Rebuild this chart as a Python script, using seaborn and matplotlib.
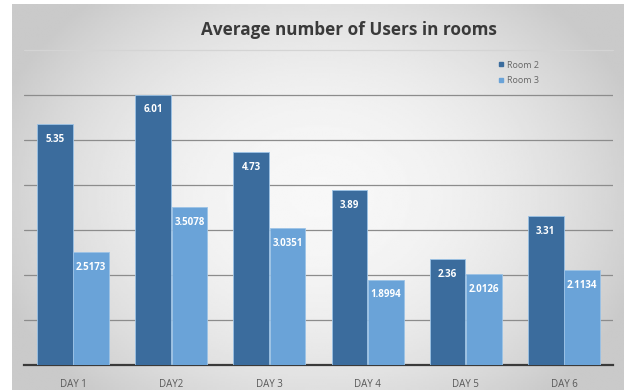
import numpy as np
import pandas as pd
import matplotlib
matplotlib.use("Agg")
import matplotlib.pyplot as plt
from matplotlib.lines import Line2D
import seaborn as sns

# Chart data
days = ["DAY 1", "DAY2", "DAY 3", "DAY 4", "DAY 5", "DAY 6"]
room2 = [5.35, 6.01, 4.73, 3.89, 2.36, 3.31]
room3 = [2.5173, 3.5078, 3.0351, 1.8994, 2.0126, 2.1134]
rooms = ["Room 2", "Room 3"]
title = "Average number of Users in rooms"

df = pd.DataFrame({
    "day": days * 2,
    "room": [rooms[0]] * len(days) + [rooms[1]] * len(days),
    "users": room2 + room3,
})

sns.set_theme(style="white")
plt.rcParams["font.family"] = ["Open Sans", "DejaVu Sans"]

dark = "#3b6c9d"
light = "#6aa3d8"
palette = {rooms[0]: dark, rooms[1]: light}

fig = plt.figure(figsize=(6.24, 3.91), dpi=100)
fig.patch.set_facecolor("white")

# radial grey backdrop behind the chart
bg = fig.add_axes([12 / 624, 1 / 391, 612 / 624, 386 / 391])
yy, xx = np.mgrid[-1:1:200j, -1:1:300j]
r = np.sqrt((xx / 1.05) ** 2 + (yy / 1.3) ** 2)
shade = np.clip(0.97 - 0.16 * r ** 2, 0.79, 0.97)
bg.imshow(shade, cmap="gray", vmin=0, vmax=1, aspect="auto",
          extent=[0, 1, 0, 1], interpolation="bilinear")
bg.set_axis_off()

ax = fig.add_axes([24 / 624, 26 / 391, 589 / 624, 315 / 391])
ax.patch.set_alpha(0)
sns.barplot(data=df, x="day", y="users", hue="room", palette=palette,
            saturation=1, width=0.74, gap=0.02, ax=ax, legend=False,
            zorder=3, edgecolor="#9cc3e6", linewidth=0.6)

ax.set_xlim(-0.5, 5.5)
ax.set_ylim(0, 7)
ax.set_yticks(np.arange(1, 7))
ax.yaxis.grid(True, color="#8c8c8c", linewidth=0.9, zorder=0)
ax.set_axisbelow(True)
# the top edge of the plot area is only a faint line
ax.axhline(7, color="#d4d4d4", linewidth=0.9, zorder=0, clip_on=False)
ax.tick_params(axis="y", left=False, labelleft=False)
ax.tick_params(axis="x", bottom=False, labelsize=7, colors="#595959", pad=4)
ax.set_xlabel("")
ax.set_ylabel("")
for side in ["top", "right", "left"]:
    ax.spines[side].set_visible(False)
ax.spines["bottom"].set_color("#3a3a3a")
ax.spines["bottom"].set_linewidth(1.6)

fmts = ["{:.2f}", "{:.4f}"]
for cont, fmt in zip(ax.containers, fmts):
    ax.bar_label(cont, fmt=fmt, label_type="edge", padding=-15,
                 color="white", fontsize=7, fontweight="bold")

handles = [Line2D([], [], marker="s", linestyle="", markersize=3.5,
                  color=palette[r]) for r in rooms]
fig.legend(handles, rooms, loc="upper left",
           bbox_to_anchor=(493 / 624, 1 - 57 / 391), frameon=False,
           fontsize=6.5, labelcolor="#666666", handletextpad=0.1,
           labelspacing=0.75, handlelength=1.0, borderaxespad=0)

fig.text(349 / 624, 1 - 30 / 391, title, ha="center", va="center",
         fontsize=12.3, fontweight="bold", color="#3a3a3a")

fig.savefig("out.png", dpi=100)
